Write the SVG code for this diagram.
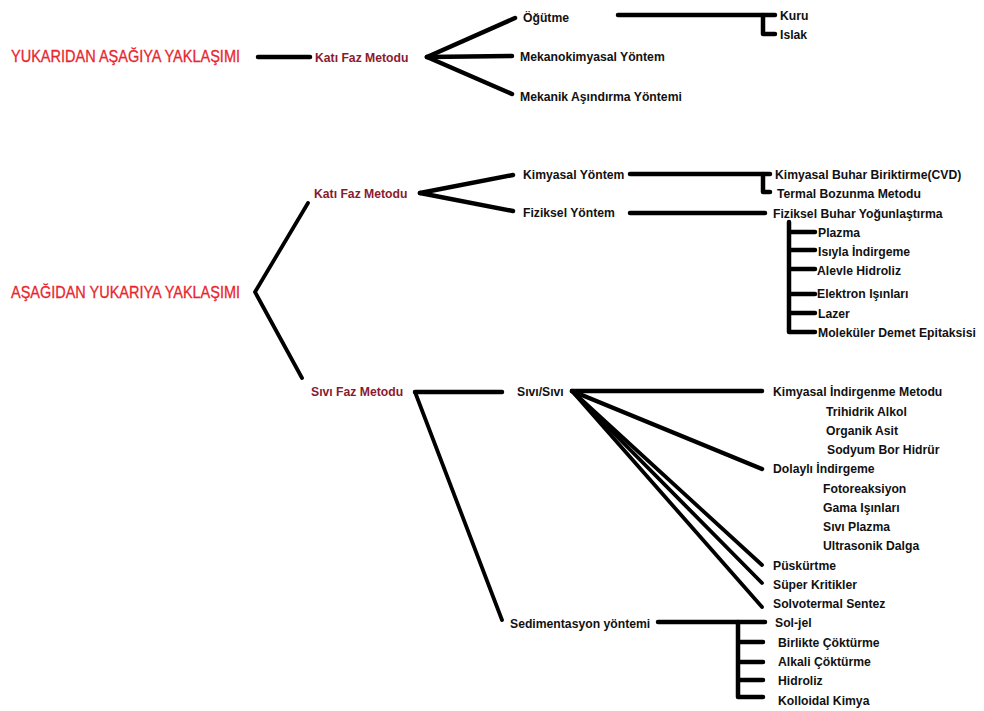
<svg xmlns="http://www.w3.org/2000/svg" width="984" height="711" viewBox="0 0 984 711">
<style>
text{font-family:"Liberation Sans",Arial,sans-serif;font-size:12.2px;font-weight:bold;fill:#111}
.title{font-size:16px;font-weight:normal;fill:#E8262E;stroke:#E8262E;stroke-width:0.3}
.sub{fill:#8B1A2E}
.c{stroke:#000;stroke-width:4.5;stroke-linecap:round;stroke-linejoin:round;fill:none}
.t{stroke-width:3.8}
</style>
<rect width="984" height="711" fill="#fff"/>
<g id="connectors">
<line class="c" x1="258" y1="57" x2="310" y2="57"/>
<line class="c" x1="427" y1="57" x2="515" y2="18"/>
<line class="c" x1="427" y1="57" x2="512" y2="56"/>
<line class="c" x1="427" y1="57" x2="512" y2="94"/>
<line class="c" x1="618" y1="15" x2="775" y2="15"/>
<path class="c" d="M763 15 V34 H775"/>
<path class="c t" d="M308 203 L255 292 L302 378"/>
<line class="c" x1="420" y1="193" x2="513" y2="175"/>
<line class="c" x1="420" y1="193" x2="513" y2="211"/>
<line class="c" x1="630" y1="174" x2="770" y2="174"/>
<path class="c" d="M763 174 V192 H770"/>
<line class="c" x1="630" y1="213" x2="765" y2="213"/>
<path class="c" d="M789 222 V332 H815 M789 232 H815 M789 250 H815 M789 269 H815 M789 294 H815 M789 313 H815"/>
<line class="c" x1="415" y1="392" x2="502" y2="392"/>
<line class="c t" x1="415" y1="392" x2="502" y2="620"/>
<line class="c" x1="572" y1="391" x2="762" y2="391"/>
<line class="c" x1="572" y1="391" x2="762" y2="469"/>
<line class="c t" x1="572" y1="391" x2="762" y2="565"/>
<line class="c t" x1="572" y1="391" x2="762" y2="583"/>
<line class="c t" x1="572" y1="391" x2="762" y2="607"/>
<line class="c" x1="658" y1="622" x2="765" y2="622"/>
<path class="c" d="M738 622 V697 H763 M738 642 H763 M738 662 H763 M738 680 H763"/>
</g>
<g id="n_yukaridan"><text class="title" x="11" y="62" textLength="229" lengthAdjust="spacingAndGlyphs">YUKARIDAN AŞAĞIYA YAKLAŞIMI</text></g>
<g id="n_kati1"><text class="sub" x="315" y="61.5">Katı Faz Metodu</text></g>
<g id="n_ogutme"><text x="523" y="21.5">Öğütme</text></g>
<g id="n_mekanokimyasal"><text x="520" y="60.5">Mekanokimyasal Yöntem</text></g>
<g id="n_mekanik"><text x="520" y="100.5">Mekanik Aşındırma Yöntemi</text></g>
<g id="n_kuru"><text x="780" y="19.5">Kuru</text></g>
<g id="n_islak"><text x="780" y="38.5">Islak</text></g>
<g id="n_asagidan"><text class="title" x="11" y="298" textLength="229" lengthAdjust="spacingAndGlyphs">AŞAĞIDAN YUKARIYA YAKLAŞIMI</text></g>
<g id="n_kati2"><text class="sub" x="314" y="197.5">Katı Faz Metodu</text></g>
<g id="n_kimyasal"><text x="523" y="178.5">Kimyasal Yöntem</text></g>
<g id="n_fiziksel"><text x="523" y="216.5">Fiziksel Yöntem</text></g>
<g id="n_cvd"><text x="775" y="178.5">Kimyasal Buhar Biriktirme(CVD)</text></g>
<g id="n_termal"><text x="777" y="197.5">Termal Bozunma Metodu</text></g>
<g id="n_fbuhar"><text x="773" y="217.5">Fiziksel Buhar Yoğunlaştırma</text></g>
<g id="n_plazma"><text x="818" y="236.5">Plazma</text></g>
<g id="n_isiyla"><text x="818" y="255.5">Isıyla İndirgeme</text></g>
<g id="n_alevle"><text x="817" y="274.5">Alevle Hidroliz</text></g>
<g id="n_elektron"><text x="817" y="297.5">Elektron Işınları</text></g>
<g id="n_lazer"><text x="818" y="317.5">Lazer</text></g>
<g id="n_molekuler"><text x="818" y="336.5">Moleküler Demet Epitaksisi</text></g>
<g id="n_sivifaz"><text class="sub" x="311" y="395.5">Sıvı Faz Metodu</text></g>
<g id="n_sivisivi"><text x="517" y="395.5">Sıvı/Sıvı</text></g>
<g id="n_kimind"><text x="773" y="395.5">Kimyasal İndirgenme Metodu</text></g>
<g id="n_trihidrik"><text x="826" y="415.5">Trihidrik Alkol</text></g>
<g id="n_organik"><text x="826" y="434.5">Organik Asit</text></g>
<g id="n_sodyum"><text x="827" y="453.5">Sodyum Bor Hidrür</text></g>
<g id="n_dolayli"><text x="773" y="472.5">Dolaylı İndirgeme</text></g>
<g id="n_foto"><text x="823" y="492.5">Fotoreaksiyon</text></g>
<g id="n_gama"><text x="823" y="511.5">Gama Işınları</text></g>
<g id="n_siviplazma"><text x="823" y="530.5">Sıvı Plazma</text></g>
<g id="n_ultrasonik"><text x="823" y="549.5">Ultrasonik Dalga</text></g>
<g id="n_puskurtme"><text x="773" y="569.5">Püskürtme</text></g>
<g id="n_super"><text x="773" y="588.5">Süper Kritikler</text></g>
<g id="n_solvo"><text x="773" y="607.5">Solvotermal Sentez</text></g>
<g id="n_sediment"><text x="510" y="627.5">Sedimentasyon yöntemi</text></g>
<g id="n_soljel"><text x="775" y="626.5">Sol-jel</text></g>
<g id="n_birlikte"><text x="778" y="646.5">Birlikte Çöktürme</text></g>
<g id="n_alkali"><text x="778" y="665.5">Alkali Çöktürme</text></g>
<g id="n_hidroliz"><text x="778" y="684.5">Hidroliz</text></g>
<g id="n_kolloidal"><text x="778" y="704.5">Kolloidal Kimya</text></g>
</svg>
